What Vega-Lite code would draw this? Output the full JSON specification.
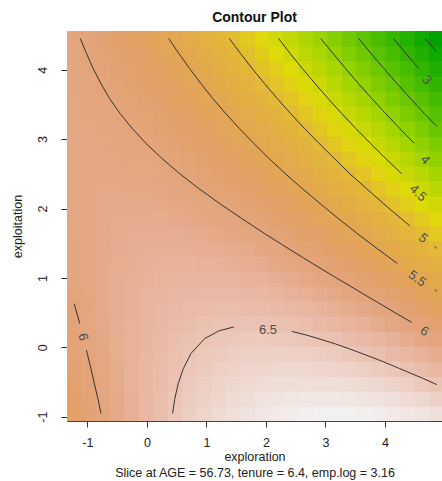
{
"$schema": "https://vega.github.io/schema/vega-lite/v6.json",
"width": 375, "height": 390,
"autosize": {"type": "none"},
"padding": {"left": 67, "top": 31, "right": 0, "bottom": 60},
"background": "white",
"title": {"text": "Contour Plot", "fontSize": 14, "fontWeight": "bold", "anchor": "middle", "offset": 6, "color": "#111"},
"config": {
 "font": "Liberation Sans",
 "view": {"stroke": "#444", "strokeWidth": 1},
 "axis": {"grid": false}
},
"layer": [
{
 "data": {"values": [
{"x":-1.22,"y":-0.95,"z":5.77},{"x":-0.98,"y":-0.95,"z":5.90},{"x":-0.73,"y":-0.95,"z":6.02},{"x":-0.49,"y":-0.95,"z":6.13},{"x":-0.25,"y":-0.95,"z":6.24},{"x":0,"y":-0.95,"z":6.34},{"x":0.24,"y":-0.95,"z":6.43},{"x":0.49,"y":-0.95,"z":6.52},{"x":0.73,"y":-0.95,"z":6.60},{"x":0.97,"y":-0.95,"z":6.67},{"x":1.22,"y":-0.95,"z":6.73},{"x":1.46,"y":-0.95,"z":6.79},{"x":1.7,"y":-0.95,"z":6.83},{"x":1.95,"y":-0.95,"z":6.88},{"x":2.19,"y":-0.95,"z":6.91},{"x":2.43,"y":-0.95,"z":6.94},{"x":2.68,"y":-0.95,"z":6.95},{"x":2.92,"y":-0.95,"z":6.97},{"x":3.16,"y":-0.95,"z":6.97},{"x":3.41,"y":-0.95,"z":6.97},{"x":3.65,"y":-0.95,"z":6.96},{"x":3.9,"y":-0.95,"z":6.94},{"x":4.14,"y":-0.95,"z":6.91},{"x":4.38,"y":-0.95,"z":6.88},{"x":4.63,"y":-0.95,"z":6.84},{"x":4.87,"y":-0.95,"z":6.79},
{"x":-1.22,"y":-0.74,"z":5.81},{"x":-0.98,"y":-0.74,"z":5.93},{"x":-0.73,"y":-0.74,"z":6.04},{"x":-0.49,"y":-0.74,"z":6.15},{"x":-0.25,"y":-0.74,"z":6.25},{"x":0,"y":-0.74,"z":6.34},{"x":0.24,"y":-0.74,"z":6.43},{"x":0.49,"y":-0.74,"z":6.51},{"x":0.73,"y":-0.74,"z":6.58},{"x":0.97,"y":-0.74,"z":6.64},{"x":1.22,"y":-0.74,"z":6.69},{"x":1.46,"y":-0.74,"z":6.74},{"x":1.7,"y":-0.74,"z":6.78},{"x":1.95,"y":-0.74,"z":6.82},{"x":2.19,"y":-0.74,"z":6.84},{"x":2.43,"y":-0.74,"z":6.86},{"x":2.68,"y":-0.74,"z":6.87},{"x":2.92,"y":-0.74,"z":6.88},{"x":3.16,"y":-0.74,"z":6.87},{"x":3.41,"y":-0.74,"z":6.86},{"x":3.65,"y":-0.74,"z":6.84},{"x":3.9,"y":-0.74,"z":6.82},{"x":4.14,"y":-0.74,"z":6.79},{"x":4.38,"y":-0.74,"z":6.74},{"x":4.63,"y":-0.74,"z":6.70},{"x":4.87,"y":-0.74,"z":6.64},
{"x":-1.22,"y":-0.52,"z":5.84},{"x":-0.98,"y":-0.52,"z":5.96},{"x":-0.73,"y":-0.52,"z":6.06},{"x":-0.49,"y":-0.52,"z":6.16},{"x":-0.25,"y":-0.52,"z":6.26},{"x":0,"y":-0.52,"z":6.34},{"x":0.24,"y":-0.52,"z":6.42},{"x":0.49,"y":-0.52,"z":6.49},{"x":0.73,"y":-0.52,"z":6.55},{"x":0.97,"y":-0.52,"z":6.61},{"x":1.22,"y":-0.52,"z":6.66},{"x":1.46,"y":-0.52,"z":6.70},{"x":1.7,"y":-0.52,"z":6.73},{"x":1.95,"y":-0.52,"z":6.76},{"x":2.19,"y":-0.52,"z":6.77},{"x":2.43,"y":-0.52,"z":6.78},{"x":2.68,"y":-0.52,"z":6.79},{"x":2.92,"y":-0.52,"z":6.78},{"x":3.16,"y":-0.52,"z":6.77},{"x":3.41,"y":-0.52,"z":6.76},{"x":3.65,"y":-0.52,"z":6.73},{"x":3.9,"y":-0.52,"z":6.70},{"x":4.14,"y":-0.52,"z":6.66},{"x":4.38,"y":-0.52,"z":6.61},{"x":4.63,"y":-0.52,"z":6.55},{"x":4.87,"y":-0.52,"z":6.49},
{"x":-1.22,"y":-0.31,"z":5.88},{"x":-0.98,"y":-0.31,"z":5.98},{"x":-0.73,"y":-0.31,"z":6.08},{"x":-0.49,"y":-0.31,"z":6.18},{"x":-0.25,"y":-0.31,"z":6.26},{"x":0,"y":-0.31,"z":6.34},{"x":0.24,"y":-0.31,"z":6.41},{"x":0.49,"y":-0.31,"z":6.47},{"x":0.73,"y":-0.31,"z":6.53},{"x":0.97,"y":-0.31,"z":6.57},{"x":1.22,"y":-0.31,"z":6.61},{"x":1.46,"y":-0.31,"z":6.65},{"x":1.7,"y":-0.31,"z":6.67},{"x":1.95,"y":-0.31,"z":6.69},{"x":2.19,"y":-0.31,"z":6.70},{"x":2.43,"y":-0.31,"z":6.71},{"x":2.68,"y":-0.31,"z":6.70},{"x":2.92,"y":-0.31,"z":6.69},{"x":3.16,"y":-0.31,"z":6.67},{"x":3.41,"y":-0.31,"z":6.65},{"x":3.65,"y":-0.31,"z":6.61},{"x":3.9,"y":-0.31,"z":6.57},{"x":4.14,"y":-0.31,"z":6.52},{"x":4.38,"y":-0.31,"z":6.47},{"x":4.63,"y":-0.31,"z":6.41},{"x":4.87,"y":-0.31,"z":6.33},
{"x":-1.22,"y":-0.09,"z":5.91},{"x":-0.98,"y":-0.09,"z":6.01},{"x":-0.73,"y":-0.09,"z":6.10},{"x":-0.49,"y":-0.09,"z":6.19},{"x":-0.25,"y":-0.09,"z":6.26},{"x":0,"y":-0.09,"z":6.33},{"x":0.24,"y":-0.09,"z":6.40},{"x":0.49,"y":-0.09,"z":6.45},{"x":0.73,"y":-0.09,"z":6.50},{"x":0.97,"y":-0.09,"z":6.54},{"x":1.22,"y":-0.09,"z":6.57},{"x":1.46,"y":-0.09,"z":6.60},{"x":1.7,"y":-0.09,"z":6.61},{"x":1.95,"y":-0.09,"z":6.63},{"x":2.19,"y":-0.09,"z":6.63},{"x":2.43,"y":-0.09,"z":6.62},{"x":2.68,"y":-0.09,"z":6.61},{"x":2.92,"y":-0.09,"z":6.59},{"x":3.16,"y":-0.09,"z":6.57},{"x":3.41,"y":-0.09,"z":6.53},{"x":3.65,"y":-0.09,"z":6.49},{"x":3.9,"y":-0.09,"z":6.44},{"x":4.14,"y":-0.09,"z":6.39},{"x":4.38,"y":-0.09,"z":6.33},{"x":4.63,"y":-0.09,"z":6.26},{"x":4.87,"y":-0.09,"z":6.18},
{"x":-1.22,"y":0.13,"z":5.94},{"x":-0.98,"y":0.13,"z":6.03},{"x":-0.73,"y":0.13,"z":6.12},{"x":-0.49,"y":0.13,"z":6.19},{"x":-0.25,"y":0.13,"z":6.26},{"x":0,"y":0.13,"z":6.32},{"x":0.24,"y":0.13,"z":6.38},{"x":0.49,"y":0.13,"z":6.43},{"x":0.73,"y":0.13,"z":6.47},{"x":0.97,"y":0.13,"z":6.50},{"x":1.22,"y":0.13,"z":6.53},{"x":1.46,"y":0.13,"z":6.54},{"x":1.7,"y":0.13,"z":6.55},{"x":1.95,"y":0.13,"z":6.56},{"x":2.19,"y":0.13,"z":6.55},{"x":2.43,"y":0.13,"z":6.54},{"x":2.68,"y":0.13,"z":6.52},{"x":2.92,"y":0.13,"z":6.50},{"x":3.16,"y":0.13,"z":6.46},{"x":3.41,"y":0.13,"z":6.42},{"x":3.65,"y":0.13,"z":6.37},{"x":3.9,"y":0.13,"z":6.32},{"x":4.14,"y":0.13,"z":6.25},{"x":4.38,"y":0.13,"z":6.18},{"x":4.63,"y":0.13,"z":6.10},{"x":4.87,"y":0.13,"z":6.02},
{"x":-1.22,"y":0.34,"z":5.97},{"x":-0.98,"y":0.34,"z":6.05},{"x":-0.73,"y":0.34,"z":6.13},{"x":-0.49,"y":0.34,"z":6.20},{"x":-0.25,"y":0.34,"z":6.26},{"x":0,"y":0.34,"z":6.31},{"x":0.24,"y":0.34,"z":6.36},{"x":0.49,"y":0.34,"z":6.40},{"x":0.73,"y":0.34,"z":6.43},{"x":0.97,"y":0.34,"z":6.46},{"x":1.22,"y":0.34,"z":6.48},{"x":1.46,"y":0.34,"z":6.49},{"x":1.7,"y":0.34,"z":6.49},{"x":1.95,"y":0.34,"z":6.49},{"x":2.19,"y":0.34,"z":6.47},{"x":2.43,"y":0.34,"z":6.45},{"x":2.68,"y":0.34,"z":6.43},{"x":2.92,"y":0.34,"z":6.39},{"x":3.16,"y":0.34,"z":6.35},{"x":3.41,"y":0.34,"z":6.30},{"x":3.65,"y":0.34,"z":6.25},{"x":3.9,"y":0.34,"z":6.18},{"x":4.14,"y":0.34,"z":6.11},{"x":4.38,"y":0.34,"z":6.03},{"x":4.63,"y":0.34,"z":5.95},{"x":4.87,"y":0.34,"z":5.86},
{"x":-1.22,"y":0.56,"z":5.99},{"x":-0.98,"y":0.56,"z":6.07},{"x":-0.73,"y":0.56,"z":6.14},{"x":-0.49,"y":0.56,"z":6.20},{"x":-0.25,"y":0.56,"z":6.25},{"x":0,"y":0.56,"z":6.30},{"x":0.24,"y":0.56,"z":6.34},{"x":0.49,"y":0.56,"z":6.37},{"x":0.73,"y":0.56,"z":6.40},{"x":0.97,"y":0.56,"z":6.42},{"x":1.22,"y":0.56,"z":6.43},{"x":1.46,"y":0.56,"z":6.43},{"x":1.7,"y":0.56,"z":6.42},{"x":1.95,"y":0.56,"z":6.41},{"x":2.19,"y":0.56,"z":6.39},{"x":2.43,"y":0.56,"z":6.37},{"x":2.68,"y":0.56,"z":6.33},{"x":2.92,"y":0.56,"z":6.29},{"x":3.16,"y":0.56,"z":6.24},{"x":3.41,"y":0.56,"z":6.18},{"x":3.65,"y":0.56,"z":6.12},{"x":3.9,"y":0.56,"z":6.05},{"x":4.14,"y":0.56,"z":5.97},{"x":4.38,"y":0.56,"z":5.89},{"x":4.63,"y":0.56,"z":5.79},{"x":4.87,"y":0.56,"z":5.69},
{"x":-1.22,"y":0.78,"z":6.02},{"x":-0.98,"y":0.78,"z":6.08},{"x":-0.73,"y":0.78,"z":6.15},{"x":-0.49,"y":0.78,"z":6.20},{"x":-0.25,"y":0.78,"z":6.25},{"x":0,"y":0.78,"z":6.29},{"x":0.24,"y":0.78,"z":6.32},{"x":0.49,"y":0.78,"z":6.34},{"x":0.73,"y":0.78,"z":6.36},{"x":0.97,"y":0.78,"z":6.37},{"x":1.22,"y":0.78,"z":6.37},{"x":1.46,"y":0.78,"z":6.37},{"x":1.7,"y":0.78,"z":6.36},{"x":1.95,"y":0.78,"z":6.34},{"x":2.19,"y":0.78,"z":6.31},{"x":2.43,"y":0.78,"z":6.27},{"x":2.68,"y":0.78,"z":6.23},{"x":2.92,"y":0.78,"z":6.18},{"x":3.16,"y":0.78,"z":6.13},{"x":3.41,"y":0.78,"z":6.06},{"x":3.65,"y":0.78,"z":5.99},{"x":3.9,"y":0.78,"z":5.91},{"x":4.14,"y":0.78,"z":5.83},{"x":4.38,"y":0.78,"z":5.73},{"x":4.63,"y":0.78,"z":5.63},{"x":4.87,"y":0.78,"z":5.52},
{"x":-1.22,"y":0.99,"z":6.04},{"x":-0.98,"y":0.99,"z":6.10},{"x":-0.73,"y":0.99,"z":6.15},{"x":-0.49,"y":0.99,"z":6.20},{"x":-0.25,"y":0.99,"z":6.24},{"x":0,"y":0.99,"z":6.27},{"x":0.24,"y":0.99,"z":6.29},{"x":0.49,"y":0.99,"z":6.31},{"x":0.73,"y":0.99,"z":6.32},{"x":0.97,"y":0.99,"z":6.32},{"x":1.22,"y":0.99,"z":6.32},{"x":1.46,"y":0.99,"z":6.30},{"x":1.7,"y":0.99,"z":6.28},{"x":1.95,"y":0.99,"z":6.26},{"x":2.19,"y":0.99,"z":6.22},{"x":2.43,"y":0.99,"z":6.18},{"x":2.68,"y":0.99,"z":6.13},{"x":2.92,"y":0.99,"z":6.07},{"x":3.16,"y":0.99,"z":6.01},{"x":3.41,"y":0.99,"z":5.94},{"x":3.65,"y":0.99,"z":5.86},{"x":3.9,"y":0.99,"z":5.77},{"x":4.14,"y":0.99,"z":5.68},{"x":4.38,"y":0.99,"z":5.58},{"x":4.63,"y":0.99,"z":5.47},{"x":4.87,"y":0.99,"z":5.35},
{"x":-1.22,"y":1.21,"z":6.05},{"x":-0.98,"y":1.21,"z":6.11},{"x":-0.73,"y":1.21,"z":6.15},{"x":-0.49,"y":1.21,"z":6.19},{"x":-0.25,"y":1.21,"z":6.22},{"x":0,"y":1.21,"z":6.25},{"x":0.24,"y":1.21,"z":6.26},{"x":0.49,"y":1.21,"z":6.27},{"x":0.73,"y":1.21,"z":6.28},{"x":0.97,"y":1.21,"z":6.27},{"x":1.22,"y":1.21,"z":6.26},{"x":1.46,"y":1.21,"z":6.24},{"x":1.7,"y":1.21,"z":6.21},{"x":1.95,"y":1.21,"z":6.18},{"x":2.19,"y":1.21,"z":6.13},{"x":2.43,"y":1.21,"z":6.08},{"x":2.68,"y":1.21,"z":6.03},{"x":2.92,"y":1.21,"z":5.96},{"x":3.16,"y":1.21,"z":5.89},{"x":3.41,"y":1.21,"z":5.81},{"x":3.65,"y":1.21,"z":5.73},{"x":3.9,"y":1.21,"z":5.63},{"x":4.14,"y":1.21,"z":5.53},{"x":4.38,"y":1.21,"z":5.42},{"x":4.63,"y":1.21,"z":5.31},{"x":4.87,"y":1.21,"z":5.18},
{"x":-1.22,"y":1.42,"z":6.07},{"x":-0.98,"y":1.42,"z":6.11},{"x":-0.73,"y":1.42,"z":6.15},{"x":-0.49,"y":1.42,"z":6.18},{"x":-0.25,"y":1.42,"z":6.21},{"x":0,"y":1.42,"z":6.23},{"x":0.24,"y":1.42,"z":6.23},{"x":0.49,"y":1.42,"z":6.24},{"x":0.73,"y":1.42,"z":6.23},{"x":0.97,"y":1.42,"z":6.22},{"x":1.22,"y":1.42,"z":6.20},{"x":1.46,"y":1.42,"z":6.17},{"x":1.7,"y":1.42,"z":6.14},{"x":1.95,"y":1.42,"z":6.09},{"x":2.19,"y":1.42,"z":6.04},{"x":2.43,"y":1.42,"z":5.99},{"x":2.68,"y":1.42,"z":5.92},{"x":2.92,"y":1.42,"z":5.85},{"x":3.16,"y":1.42,"z":5.77},{"x":3.41,"y":1.42,"z":5.68},{"x":3.65,"y":1.42,"z":5.59},{"x":3.9,"y":1.42,"z":5.49},{"x":4.14,"y":1.42,"z":5.38},{"x":4.38,"y":1.42,"z":5.26},{"x":4.63,"y":1.42,"z":5.14},{"x":4.87,"y":1.42,"z":5.01},
{"x":-1.22,"y":1.64,"z":6.08},{"x":-0.98,"y":1.64,"z":6.12},{"x":-0.73,"y":1.64,"z":6.15},{"x":-0.49,"y":1.64,"z":6.17},{"x":-0.25,"y":1.64,"z":6.19},{"x":0,"y":1.64,"z":6.20},{"x":0.24,"y":1.64,"z":6.20},{"x":0.49,"y":1.64,"z":6.20},{"x":0.73,"y":1.64,"z":6.18},{"x":0.97,"y":1.64,"z":6.16},{"x":1.22,"y":1.64,"z":6.13},{"x":1.46,"y":1.64,"z":6.10},{"x":1.7,"y":1.64,"z":6.06},{"x":1.95,"y":1.64,"z":6.01},{"x":2.19,"y":1.64,"z":5.95},{"x":2.43,"y":1.64,"z":5.89},{"x":2.68,"y":1.64,"z":5.81},{"x":2.92,"y":1.64,"z":5.73},{"x":3.16,"y":1.64,"z":5.65},{"x":3.41,"y":1.64,"z":5.55},{"x":3.65,"y":1.64,"z":5.45},{"x":3.9,"y":1.64,"z":5.34},{"x":4.14,"y":1.64,"z":5.22},{"x":4.38,"y":1.64,"z":5.10},{"x":4.63,"y":1.64,"z":4.97},{"x":4.87,"y":1.64,"z":4.83},
{"x":-1.22,"y":1.86,"z":6.09},{"x":-0.98,"y":1.86,"z":6.12},{"x":-0.73,"y":1.86,"z":6.15},{"x":-0.49,"y":1.86,"z":6.16},{"x":-0.25,"y":1.86,"z":6.17},{"x":0,"y":1.86,"z":6.17},{"x":0.24,"y":1.86,"z":6.17},{"x":0.49,"y":1.86,"z":6.15},{"x":0.73,"y":1.86,"z":6.13},{"x":0.97,"y":1.86,"z":6.10},{"x":1.22,"y":1.86,"z":6.07},{"x":1.46,"y":1.86,"z":6.03},{"x":1.7,"y":1.86,"z":5.98},{"x":1.95,"y":1.86,"z":5.92},{"x":2.19,"y":1.86,"z":5.85},{"x":2.43,"y":1.86,"z":5.78},{"x":2.68,"y":1.86,"z":5.70},{"x":2.92,"y":1.86,"z":5.61},{"x":3.16,"y":1.86,"z":5.52},{"x":3.41,"y":1.86,"z":5.42},{"x":3.65,"y":1.86,"z":5.31},{"x":3.9,"y":1.86,"z":5.19},{"x":4.14,"y":1.86,"z":5.07},{"x":4.38,"y":1.86,"z":4.94},{"x":4.63,"y":1.86,"z":4.80},{"x":4.87,"y":1.86,"z":4.65},
{"x":-1.22,"y":2.07,"z":6.10},{"x":-0.98,"y":2.07,"z":6.12},{"x":-0.73,"y":2.07,"z":6.14},{"x":-0.49,"y":2.07,"z":6.15},{"x":-0.25,"y":2.07,"z":6.15},{"x":0,"y":2.07,"z":6.14},{"x":0.24,"y":2.07,"z":6.13},{"x":0.49,"y":2.07,"z":6.11},{"x":0.73,"y":2.07,"z":6.08},{"x":0.97,"y":2.07,"z":6.04},{"x":1.22,"y":2.07,"z":6.00},{"x":1.46,"y":2.07,"z":5.95},{"x":1.7,"y":2.07,"z":5.89},{"x":1.95,"y":2.07,"z":5.83},{"x":2.19,"y":2.07,"z":5.76},{"x":2.43,"y":2.07,"z":5.68},{"x":2.68,"y":2.07,"z":5.59},{"x":2.92,"y":2.07,"z":5.49},{"x":3.16,"y":2.07,"z":5.39},{"x":3.41,"y":2.07,"z":5.28},{"x":3.65,"y":2.07,"z":5.17},{"x":3.9,"y":2.07,"z":5.04},{"x":4.14,"y":2.07,"z":4.91},{"x":4.38,"y":2.07,"z":4.77},{"x":4.63,"y":2.07,"z":4.62},{"x":4.87,"y":2.07,"z":4.47},
{"x":-1.22,"y":2.29,"z":6.10},{"x":-0.98,"y":2.29,"z":6.12},{"x":-0.73,"y":2.29,"z":6.13},{"x":-0.49,"y":2.29,"z":6.13},{"x":-0.25,"y":2.29,"z":6.12},{"x":0,"y":2.29,"z":6.11},{"x":0.24,"y":2.29,"z":6.09},{"x":0.49,"y":2.29,"z":6.06},{"x":0.73,"y":2.29,"z":6.02},{"x":0.97,"y":2.29,"z":5.98},{"x":1.22,"y":2.29,"z":5.93},{"x":1.46,"y":2.29,"z":5.87},{"x":1.7,"y":2.29,"z":5.81},{"x":1.95,"y":2.29,"z":5.74},{"x":2.19,"y":2.29,"z":5.65},{"x":2.43,"y":2.29,"z":5.57},{"x":2.68,"y":2.29,"z":5.47},{"x":2.92,"y":2.29,"z":5.37},{"x":3.16,"y":2.29,"z":5.26},{"x":3.41,"y":2.29,"z":5.14},{"x":3.65,"y":2.29,"z":5.02},{"x":3.9,"y":2.29,"z":4.89},{"x":4.14,"y":2.29,"z":4.75},{"x":4.38,"y":2.29,"z":4.60},{"x":4.63,"y":2.29,"z":4.45},{"x":4.87,"y":2.29,"z":4.29},
{"x":-1.22,"y":2.51,"z":6.11},{"x":-0.98,"y":2.51,"z":6.12},{"x":-0.73,"y":2.51,"z":6.12},{"x":-0.49,"y":2.51,"z":6.11},{"x":-0.25,"y":2.51,"z":6.10},{"x":0,"y":2.51,"z":6.08},{"x":0.24,"y":2.51,"z":6.05},{"x":0.49,"y":2.51,"z":6.01},{"x":0.73,"y":2.51,"z":5.97},{"x":0.97,"y":2.51,"z":5.92},{"x":1.22,"y":2.51,"z":5.86},{"x":1.46,"y":2.51,"z":5.79},{"x":1.7,"y":2.51,"z":5.72},{"x":1.95,"y":2.51,"z":5.64},{"x":2.19,"y":2.51,"z":5.55},{"x":2.43,"y":2.51,"z":5.46},{"x":2.68,"y":2.51,"z":5.35},{"x":2.92,"y":2.51,"z":5.24},{"x":3.16,"y":2.51,"z":5.13},{"x":3.41,"y":2.51,"z":5.00},{"x":3.65,"y":2.51,"z":4.87},{"x":3.9,"y":2.51,"z":4.73},{"x":4.14,"y":2.51,"z":4.58},{"x":4.38,"y":2.51,"z":4.43},{"x":4.63,"y":2.51,"z":4.27},{"x":4.87,"y":2.51,"z":4.10},
{"x":-1.22,"y":2.72,"z":6.11},{"x":-0.98,"y":2.72,"z":6.11},{"x":-0.73,"y":2.72,"z":6.10},{"x":-0.49,"y":2.72,"z":6.09},{"x":-0.25,"y":2.72,"z":6.07},{"x":0,"y":2.72,"z":6.04},{"x":0.24,"y":2.72,"z":6.00},{"x":0.49,"y":2.72,"z":5.96},{"x":0.73,"y":2.72,"z":5.91},{"x":0.97,"y":2.72,"z":5.85},{"x":1.22,"y":2.72,"z":5.78},{"x":1.46,"y":2.72,"z":5.71},{"x":1.7,"y":2.72,"z":5.63},{"x":1.95,"y":2.72,"z":5.54},{"x":2.19,"y":2.72,"z":5.45},{"x":2.43,"y":2.72,"z":5.34},{"x":2.68,"y":2.72,"z":5.23},{"x":2.92,"y":2.72,"z":5.12},{"x":3.16,"y":2.72,"z":4.99},{"x":3.41,"y":2.72,"z":4.86},{"x":3.65,"y":2.72,"z":4.72},{"x":3.9,"y":2.72,"z":4.57},{"x":4.14,"y":2.72,"z":4.42},{"x":4.38,"y":2.72,"z":4.26},{"x":4.63,"y":2.72,"z":4.09},{"x":4.87,"y":2.72,"z":3.91},
{"x":-1.22,"y":2.94,"z":6.11},{"x":-0.98,"y":2.94,"z":6.10},{"x":-0.73,"y":2.94,"z":6.09},{"x":-0.49,"y":2.94,"z":6.06},{"x":-0.25,"y":2.94,"z":6.03},{"x":0,"y":2.94,"z":6.00},{"x":0.24,"y":2.94,"z":5.95},{"x":0.49,"y":2.94,"z":5.90},{"x":0.73,"y":2.94,"z":5.84},{"x":0.97,"y":2.94,"z":5.78},{"x":1.22,"y":2.94,"z":5.71},{"x":1.46,"y":2.94,"z":5.62},{"x":1.7,"y":2.94,"z":5.54},{"x":1.95,"y":2.94,"z":5.44},{"x":2.19,"y":2.94,"z":5.34},{"x":2.43,"y":2.94,"z":5.23},{"x":2.68,"y":2.94,"z":5.11},{"x":2.92,"y":2.94,"z":4.99},{"x":3.16,"y":2.94,"z":4.85},{"x":3.41,"y":2.94,"z":4.71},{"x":3.65,"y":2.94,"z":4.57},{"x":3.9,"y":2.94,"z":4.41},{"x":4.14,"y":2.94,"z":4.25},{"x":4.38,"y":2.94,"z":4.08},{"x":4.63,"y":2.94,"z":3.90},{"x":4.87,"y":2.94,"z":3.72},
{"x":-1.22,"y":3.15,"z":6.10},{"x":-0.98,"y":3.15,"z":6.09},{"x":-0.73,"y":3.15,"z":6.07},{"x":-0.49,"y":3.15,"z":6.04},{"x":-0.25,"y":3.15,"z":6.00},{"x":0,"y":3.15,"z":5.96},{"x":0.24,"y":3.15,"z":5.90},{"x":0.49,"y":3.15,"z":5.85},{"x":0.73,"y":3.15,"z":5.78},{"x":0.97,"y":3.15,"z":5.71},{"x":1.22,"y":3.15,"z":5.62},{"x":1.46,"y":3.15,"z":5.54},{"x":1.7,"y":3.15,"z":5.44},{"x":1.95,"y":3.15,"z":5.34},{"x":2.19,"y":3.15,"z":5.23},{"x":2.43,"y":3.15,"z":5.11},{"x":2.68,"y":3.15,"z":4.98},{"x":2.92,"y":3.15,"z":4.85},{"x":3.16,"y":3.15,"z":4.71},{"x":3.41,"y":3.15,"z":4.56},{"x":3.65,"y":3.15,"z":4.41},{"x":3.9,"y":3.15,"z":4.25},{"x":4.14,"y":3.15,"z":4.08},{"x":4.38,"y":3.15,"z":3.90},{"x":4.63,"y":3.15,"z":3.72},{"x":4.87,"y":3.15,"z":3.52},
{"x":-1.22,"y":3.37,"z":6.10},{"x":-0.98,"y":3.37,"z":6.07},{"x":-0.73,"y":3.37,"z":6.04},{"x":-0.49,"y":3.37,"z":6.01},{"x":-0.25,"y":3.37,"z":5.96},{"x":0,"y":3.37,"z":5.91},{"x":0.24,"y":3.37,"z":5.85},{"x":0.49,"y":3.37,"z":5.79},{"x":0.73,"y":3.37,"z":5.71},{"x":0.97,"y":3.37,"z":5.63},{"x":1.22,"y":3.37,"z":5.54},{"x":1.46,"y":3.37,"z":5.45},{"x":1.7,"y":3.37,"z":5.34},{"x":1.95,"y":3.37,"z":5.23},{"x":2.19,"y":3.37,"z":5.11},{"x":2.43,"y":3.37,"z":4.99},{"x":2.68,"y":3.37,"z":4.86},{"x":2.92,"y":3.37,"z":4.72},{"x":3.16,"y":3.37,"z":4.57},{"x":3.41,"y":3.37,"z":4.41},{"x":3.65,"y":3.37,"z":4.25},{"x":3.9,"y":3.37,"z":4.08},{"x":4.14,"y":3.37,"z":3.90},{"x":4.38,"y":3.37,"z":3.72},{"x":4.63,"y":3.37,"z":3.53},{"x":4.87,"y":3.37,"z":3.33},
{"x":-1.22,"y":3.59,"z":6.09},{"x":-0.98,"y":3.59,"z":6.06},{"x":-0.73,"y":3.59,"z":6.02},{"x":-0.49,"y":3.59,"z":5.98},{"x":-0.25,"y":3.59,"z":5.92},{"x":0,"y":3.59,"z":5.86},{"x":0.24,"y":3.59,"z":5.80},{"x":0.49,"y":3.59,"z":5.72},{"x":0.73,"y":3.59,"z":5.64},{"x":0.97,"y":3.59,"z":5.55},{"x":1.22,"y":3.59,"z":5.46},{"x":1.46,"y":3.59,"z":5.35},{"x":1.7,"y":3.59,"z":5.24},{"x":1.95,"y":3.59,"z":5.12},{"x":2.19,"y":3.59,"z":5.00},{"x":2.43,"y":3.59,"z":4.87},{"x":2.68,"y":3.59,"z":4.73},{"x":2.92,"y":3.59,"z":4.58},{"x":3.16,"y":3.59,"z":4.42},{"x":3.41,"y":3.59,"z":4.26},{"x":3.65,"y":3.59,"z":4.09},{"x":3.9,"y":3.59,"z":3.91},{"x":4.14,"y":3.59,"z":3.73},{"x":4.38,"y":3.59,"z":3.54},{"x":4.63,"y":3.59,"z":3.34},{"x":4.87,"y":3.59,"z":3.13},
{"x":-1.22,"y":3.8,"z":6.07},{"x":-0.98,"y":3.8,"z":6.04},{"x":-0.73,"y":3.8,"z":5.99},{"x":-0.49,"y":3.8,"z":5.94},{"x":-0.25,"y":3.8,"z":5.88},{"x":0,"y":3.8,"z":5.81},{"x":0.24,"y":3.8,"z":5.74},{"x":0.49,"y":3.8,"z":5.66},{"x":0.73,"y":3.8,"z":5.57},{"x":0.97,"y":3.8,"z":5.47},{"x":1.22,"y":3.8,"z":5.37},{"x":1.46,"y":3.8,"z":5.26},{"x":1.7,"y":3.8,"z":5.14},{"x":1.95,"y":3.8,"z":5.01},{"x":2.19,"y":3.8,"z":4.88},{"x":2.43,"y":3.8,"z":4.74},{"x":2.68,"y":3.8,"z":4.59},{"x":2.92,"y":3.8,"z":4.44},{"x":3.16,"y":3.8,"z":4.27},{"x":3.41,"y":3.8,"z":4.10},{"x":3.65,"y":3.8,"z":3.93},{"x":3.9,"y":3.8,"z":3.74},{"x":4.14,"y":3.8,"z":3.55},{"x":4.38,"y":3.8,"z":3.35},{"x":4.63,"y":3.8,"z":3.14},{"x":4.87,"y":3.8,"z":2.93},
{"x":-1.22,"y":4.02,"z":6.06},{"x":-0.98,"y":4.02,"z":6.02},{"x":-0.73,"y":4.02,"z":5.96},{"x":-0.49,"y":4.02,"z":5.90},{"x":-0.25,"y":4.02,"z":5.84},{"x":0,"y":4.02,"z":5.76},{"x":0.24,"y":4.02,"z":5.68},{"x":0.49,"y":4.02,"z":5.59},{"x":0.73,"y":4.02,"z":5.50},{"x":0.97,"y":4.02,"z":5.39},{"x":1.22,"y":4.02,"z":5.28},{"x":1.46,"y":4.02,"z":5.16},{"x":1.7,"y":4.02,"z":5.04},{"x":1.95,"y":4.02,"z":4.90},{"x":2.19,"y":4.02,"z":4.76},{"x":2.43,"y":4.02,"z":4.61},{"x":2.68,"y":4.02,"z":4.46},{"x":2.92,"y":4.02,"z":4.29},{"x":3.16,"y":4.02,"z":4.12},{"x":3.41,"y":4.02,"z":3.95},{"x":3.65,"y":4.02,"z":3.76},{"x":3.9,"y":4.02,"z":3.57},{"x":4.14,"y":4.02,"z":3.37},{"x":4.38,"y":4.02,"z":3.16},{"x":4.63,"y":4.02,"z":2.95},{"x":4.87,"y":4.02,"z":2.72},
{"x":-1.22,"y":4.24,"z":6.04},{"x":-0.98,"y":4.24,"z":5.99},{"x":-0.73,"y":4.24,"z":5.93},{"x":-0.49,"y":4.24,"z":5.86},{"x":-0.25,"y":4.24,"z":5.79},{"x":0,"y":4.24,"z":5.71},{"x":0.24,"y":4.24,"z":5.62},{"x":0.49,"y":4.24,"z":5.52},{"x":0.73,"y":4.24,"z":5.42},{"x":0.97,"y":4.24,"z":5.31},{"x":1.22,"y":4.24,"z":5.19},{"x":1.46,"y":4.24,"z":5.06},{"x":1.7,"y":4.24,"z":4.93},{"x":1.95,"y":4.24,"z":4.79},{"x":2.19,"y":4.24,"z":4.64},{"x":2.43,"y":4.24,"z":4.48},{"x":2.68,"y":4.24,"z":4.32},{"x":2.92,"y":4.24,"z":4.15},{"x":3.16,"y":4.24,"z":3.97},{"x":3.41,"y":4.24,"z":3.79},{"x":3.65,"y":4.24,"z":3.59},{"x":3.9,"y":4.24,"z":3.39},{"x":4.14,"y":4.24,"z":3.19},{"x":4.38,"y":4.24,"z":2.97},{"x":4.63,"y":4.24,"z":2.75},{"x":4.87,"y":4.24,"z":2.52},
{"x":-1.22,"y":4.45,"z":6.03},{"x":-0.98,"y":4.45,"z":5.97},{"x":-0.73,"y":4.45,"z":5.90},{"x":-0.49,"y":4.45,"z":5.82},{"x":-0.25,"y":4.45,"z":5.74},{"x":0,"y":4.45,"z":5.65},{"x":0.24,"y":4.45,"z":5.55},{"x":0.49,"y":4.45,"z":5.45},{"x":0.73,"y":4.45,"z":5.34},{"x":0.97,"y":4.45,"z":5.22},{"x":1.22,"y":4.45,"z":5.09},{"x":1.46,"y":4.45,"z":4.96},{"x":1.7,"y":4.45,"z":4.82},{"x":1.95,"y":4.45,"z":4.67},{"x":2.19,"y":4.45,"z":4.51},{"x":2.43,"y":4.45,"z":4.35},{"x":2.68,"y":4.45,"z":4.18},{"x":2.92,"y":4.45,"z":4.00},{"x":3.16,"y":4.45,"z":3.82},{"x":3.41,"y":4.45,"z":3.62},{"x":3.65,"y":4.45,"z":3.42},{"x":3.9,"y":4.45,"z":3.21},{"x":4.14,"y":4.45,"z":3.00},{"x":4.38,"y":4.45,"z":2.78},{"x":4.63,"y":4.45,"z":2.55},{"x":4.87,"y":4.45,"z":2.31}
 ]},
 "mark": {"type": "rect", "width": 15.8, "height": 16.2, "clip": true},
 "encoding": {
  "x": {"field": "x", "type": "quantitative", "scale": {"domain": [-1.341, 4.957], "nice": false, "zero": false},
        "axis": {"values": [-1,0,1,2,3,4], "labelExpr": "'' + datum.value", "domain": false, "grid": false, "tickSize": 6, "tickColor": "#333", "labelFontSize": 12.5, "labelPadding": 9, "labelColor": "#222", "labelFlush": false, "titleFontSize": 12.5, "titleFontWeight": "normal", "titleColor": "#222", "titlePadding": 2, "titleLineHeight": 16,
                 "title": ["exploration", "Slice at AGE = 56.73, tenure = 6.4, emp.log = 3.16"]}},
  "y": {"field": "y", "type": "quantitative", "scale": {"domain": [-1.062, 4.558], "nice": false, "zero": false},
        "axis": {"values": [-1,0,1,2,3,4], "labelExpr": "'' + datum.value", "domain": false, "grid": false, "tickSize": 6, "tickColor": "#333", "labelFontSize": 12.5, "labelAngle": -90, "labelAlign": "center", "labelBaseline": "alphabetic", "labelPadding": 15, "labelColor": "#222", "labelFlush": false, "titleFontSize": 12.5, "titleFontWeight": "normal", "titleColor": "#222", "titlePadding": 12,
                 "title": "exploitation"}},
  "color": {"field": "z", "type": "quantitative", "legend": null, "scale": {"domain": [2.31, 2.9, 3.475, 4.05, 4.64, 5.0, 5.4, 5.8, 6.1, 6.4, 6.97], "range": ["#00A300", "#2EB400", "#63C500", "#A0D500", "#E0DA08", "#E3B936", "#E3A84C", "#E3A06A", "#E4A784", "#EABBA9", "#F2F0F0"], "interpolate": "rgb"}}
 }
},
{
 "data": {"values": [
{"s":"c6","o":1,"x":-1.118,"y":4.451},{"s":"c6","o":2,"x":-1.014,"y":4.235},{"s":"c6","o":3,"x":-0.903,"y":4.019},{"s":"c6","o":4,"x":-0.772,"y":3.802},{"s":"c6","o":5,"x":-0.626,"y":3.586},{"s":"c6","o":6,"x":-0.45,"y":3.37},{"s":"c6","o":7,"x":-0.246,"y":3.154},{"s":"c6","o":8,"x":-0.014,"y":2.938},{"s":"c6","o":9,"x":0.254,"y":2.721},{"s":"c6","o":10,"x":0.546,"y":2.505},{"s":"c6","o":11,"x":0.87,"y":2.289},{"s":"c6","o":12,"x":1.221,"y":2.073},{"s":"c6","o":13,"x":1.591,"y":1.857},{"s":"c6","o":14,"x":1.976,"y":1.64},{"s":"c6","o":15,"x":2.373,"y":1.424},{"s":"c6","o":16,"x":2.782,"y":1.208},{"s":"c6","o":17,"x":3.199,"y":0.992},{"s":"c6","o":18,"x":3.622,"y":0.776},{"s":"c6","o":19,"x":4.049,"y":0.559},{"s":"c6","o":20,"x":4.45,"y":0.358},
{"s":"c6L1","o":1,"x":-0.769,"y":-0.954},{"s":"c6L1","o":2,"x":-0.823,"y":-0.738},{"s":"c6L1","o":3,"x":-0.881,"y":-0.522},{"s":"c6L1","o":4,"x":-0.94,"y":-0.305},{"s":"c6L1","o":5,"x":-1.001,"y":-0.089},{"s":"c6L1","o":6,"x":-1.015,"y":-0.04},
{"s":"c6L2","o":1,"x":-1.127,"y":0.343},{"s":"c6L2","o":2,"x":-1.198,"y":0.559},{"s":"c6L2","o":3,"x":-1.219,"y":0.628},
{"s":"c55","o":1,"x":0.368,"y":4.451},{"s":"c55","o":2,"x":0.536,"y":4.235},{"s":"c55","o":3,"x":0.717,"y":4.019},{"s":"c55","o":4,"x":0.907,"y":3.802},{"s":"c55","o":5,"x":1.106,"y":3.586},{"s":"c55","o":6,"x":1.323,"y":3.37},{"s":"c55","o":7,"x":1.553,"y":3.154},{"s":"c55","o":8,"x":1.796,"y":2.938},{"s":"c55","o":9,"x":2.052,"y":2.721},{"s":"c55","o":10,"x":2.322,"y":2.505},{"s":"c55","o":11,"x":2.607,"y":2.289},{"s":"c55","o":12,"x":2.907,"y":2.073},{"s":"c55","o":13,"x":3.213,"y":1.857},{"s":"c55","o":14,"x":3.533,"y":1.64},{"s":"c55","o":15,"x":3.866,"y":1.424},{"s":"c55","o":16,"x":4.207,"y":1.208},
{"s":"c55t","o":1,"x":4.835,"y":0.83},{"s":"c55t","o":2,"x":4.87,"y":0.806},
{"s":"c5","o":1,"x":1.384,"y":4.451},{"s":"c5","o":2,"x":1.572,"y":4.235},{"s":"c5","o":3,"x":1.767,"y":4.019},{"s":"c5","o":4,"x":1.974,"y":3.802},{"s":"c5","o":5,"x":2.188,"y":3.586},{"s":"c5","o":6,"x":2.412,"y":3.37},{"s":"c5","o":7,"x":2.646,"y":3.154},{"s":"c5","o":8,"x":2.892,"y":2.938},{"s":"c5","o":9,"x":3.148,"y":2.721},{"s":"c5","o":10,"x":3.404,"y":2.505},{"s":"c5","o":11,"x":3.686,"y":2.289},{"s":"c5","o":12,"x":3.971,"y":2.073},{"s":"c5","o":13,"x":4.266,"y":1.857},{"s":"c5","o":14,"x":4.42,"y":1.747},
{"s":"c5t","o":1,"x":4.835,"y":1.455},{"s":"c5t","o":2,"x":4.87,"y":1.424},
{"s":"c45","o":1,"x":2.21,"y":4.451},{"s":"c45","o":2,"x":2.406,"y":4.235},{"s":"c45","o":3,"x":2.61,"y":4.019},{"s":"c45","o":4,"x":2.824,"y":3.802},{"s":"c45","o":5,"x":3.043,"y":3.586},{"s":"c45","o":6,"x":3.272,"y":3.37},{"s":"c45","o":7,"x":3.508,"y":3.154},{"s":"c45","o":8,"x":3.757,"y":2.938},{"s":"c45","o":9,"x":4.01,"y":2.721},{"s":"c45","o":10,"x":4.273,"y":2.505},
{"s":"c4","o":1,"x":2.921,"y":4.451},{"s":"c4","o":2,"x":3.126,"y":4.235},{"s":"c4","o":3,"x":3.335,"y":4.019},{"s":"c4","o":4,"x":3.552,"y":3.802},{"s":"c4","o":5,"x":3.776,"y":3.586},{"s":"c4","o":6,"x":4.008,"y":3.37},{"s":"c4","o":7,"x":4.246,"y":3.154},{"s":"c4","o":8,"x":4.492,"y":2.938},
{"s":"c35","o":1,"x":3.557,"y":4.451},{"s":"c35","o":2,"x":3.765,"y":4.235},{"s":"c35","o":3,"x":3.98,"y":4.019},{"s":"c35","o":4,"x":4.2,"y":3.802},{"s":"c35","o":5,"x":4.427,"y":3.586},{"s":"c35","o":6,"x":4.66,"y":3.37},{"s":"c35","o":7,"x":4.87,"y":3.182},
{"s":"c3","o":1,"x":4.139,"y":4.451},{"s":"c3","o":2,"x":4.349,"y":4.235},{"s":"c3","o":3,"x":4.566,"y":4.019},
{"s":"c25","o":1,"x":4.675,"y":4.451},{"s":"c25","o":2,"x":4.87,"y":4.254},
{"s":"c65a","o":1,"x":0.432,"y":-0.954},{"s":"c65a","o":2,"x":0.47,"y":-0.738},{"s":"c65a","o":3,"x":0.527,"y":-0.522},{"s":"c65a","o":4,"x":0.614,"y":-0.305},{"s":"c65a","o":5,"x":0.741,"y":-0.089},{"s":"c65a","o":6,"x":0.972,"y":0.127},{"s":"c65a","o":7,"x":1.216,"y":0.239},{"s":"c65a","o":8,"x":1.46,"y":0.293},
{"s":"c65b","o":1,"x":2.434,"y":0.229},{"s":"c65b","o":2,"x":2.678,"y":0.177},{"s":"c65b","o":3,"x":2.875,"y":0.127},{"s":"c65b","o":4,"x":3.165,"y":0.049},{"s":"c65b","o":5,"x":3.408,"y":-0.024},{"s":"c65b","o":6,"x":3.611,"y":-0.089},{"s":"c65b","o":7,"x":3.896,"y":-0.182},{"s":"c65b","o":8,"x":4.139,"y":-0.268},{"s":"c65b","o":9,"x":4.241,"y":-0.305},{"s":"c65b","o":10,"x":4.383,"y":-0.356},{"s":"c65b","o":11,"x":4.626,"y":-0.444},{"s":"c65b","o":12,"x":4.831,"y":-0.522},{"s":"c65b","o":13,"x":4.87,"y":-0.537}
 ]},
 "mark": {"type": "line", "color": "#333", "strokeWidth": 1, "clip": true},
 "encoding": {
  "x": {"field": "x", "type": "quantitative"},
  "y": {"field": "y", "type": "quantitative"},
  "detail": {"field": "s", "type": "nominal"},
  "order": {"field": "o", "type": "quantitative"}
 }
},
{"data": {"values": [{"x": 2.035, "y": 0.249, "t": "6.5"}]}, "mark": {"type": "text", "fontSize": 13, "color": "#4d4d4d", "angle": 0}, "encoding": {"x": {"field": "x", "type": "quantitative"}, "y": {"field": "y", "type": "quantitative"}, "text": {"field": "t"}}},
{"data": {"values": [{"x": 4.66, "y": 0.23, "t": "6"}]}, "mark": {"type": "text", "fontSize": 13, "color": "#4d4d4d", "angle": 30}, "encoding": {"x": {"field": "x", "type": "quantitative"}, "y": {"field": "y", "type": "quantitative"}, "text": {"field": "t"}}},
{"data": {"values": [{"x": -1.07, "y": 0.15, "t": "6"}]}, "mark": {"type": "text", "fontSize": 13, "color": "#4d4d4d", "angle": 75}, "encoding": {"x": {"field": "x", "type": "quantitative"}, "y": {"field": "y", "type": "quantitative"}, "text": {"field": "t"}}},
{"data": {"values": [{"x": 4.54, "y": 0.99, "t": "5.5"}]}, "mark": {"type": "text", "fontSize": 13, "color": "#4d4d4d", "angle": 36}, "encoding": {"x": {"field": "x", "type": "quantitative"}, "y": {"field": "y", "type": "quantitative"}, "text": {"field": "t"}}},
{"data": {"values": [{"x": 4.64, "y": 1.57, "t": "5"}]}, "mark": {"type": "text", "fontSize": 13, "color": "#4d4d4d", "angle": 40}, "encoding": {"x": {"field": "x", "type": "quantitative"}, "y": {"field": "y", "type": "quantitative"}, "text": {"field": "t"}}},
{"data": {"values": [{"x": 4.554, "y": 2.223, "t": "4.5"}]}, "mark": {"type": "text", "fontSize": 13, "color": "#4d4d4d", "angle": 43}, "encoding": {"x": {"field": "x", "type": "quantitative"}, "y": {"field": "y", "type": "quantitative"}, "text": {"field": "t"}}},
{"data": {"values": [{"x": 4.672, "y": 2.699, "t": "4"}]}, "mark": {"type": "text", "fontSize": 13, "color": "#4d4d4d", "angle": 47}, "encoding": {"x": {"field": "x", "type": "quantitative"}, "y": {"field": "y", "type": "quantitative"}, "text": {"field": "t"}}},
{"data": {"values": [{"x": 4.705, "y": 3.852, "t": "3"}]}, "mark": {"type": "text", "fontSize": 13, "color": "#4d4d4d", "angle": 50}, "encoding": {"x": {"field": "x", "type": "quantitative"}, "y": {"field": "y", "type": "quantitative"}, "text": {"field": "t"}}}
]
}
